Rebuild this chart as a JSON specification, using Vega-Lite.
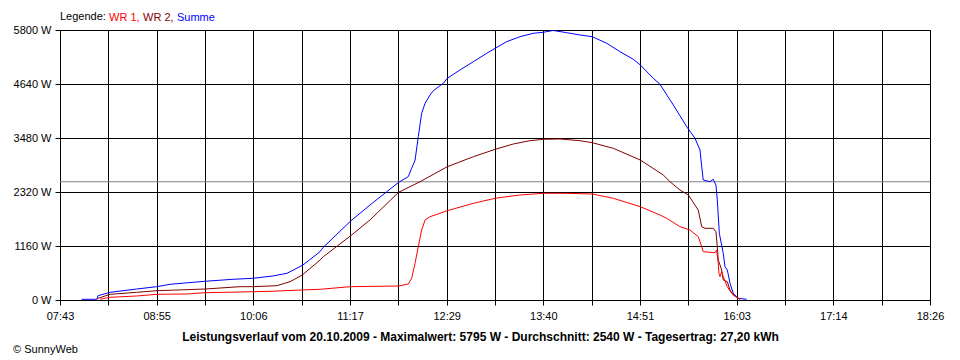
{
  "$schema": "https://vega.github.io/schema/vega-lite/v6.json",
  "width": 870,
  "height": 270,
  "autosize": {"type": "none"},
  "padding": {"left": 60, "top": 30, "right": 30, "bottom": 60},
  "background": "white",
  "config": {
    "font": "Liberation Sans",
    "view": {"stroke": "black", "strokeWidth": 1},
    "axis": {
      "labelFont": "Liberation Sans",
      "labelFontSize": 11,
      "labelColor": "black",
      "domainColor": "black",
      "tickColor": "black",
      "gridColor": "black",
      "gridOpacity": 1,
      "gridWidth": 1,
      "tickSize": 5,
      "labelOverlap": false,
      "labelFlush": false,
      "labelBound": false
    },
    "title": {"font": "Liberation Sans"}
  },
  "title": {
    "text": "© SunnyWeb",
    "orient": "bottom",
    "anchor": "start",
    "frame": "bounds",
    "fontSize": 11,
    "fontWeight": "normal",
    "color": "black",
    "offset": 2
  },
  "layer": [
    {
      "data": {"values": [{"avg": 2540}]},
      "mark": {"type": "rule", "color": "#808080", "strokeWidth": 1},
      "encoding": {"y": {"field": "avg", "type": "quantitative", "scale": {"domain": [0, 5800], "nice": false}}}
    },
    {
      "data": {"values": [
        {"t":479,"s":"Summe","p":15},{"t":490.3,"s":"Summe","p":15},{"t":491.1,"s":"Summe","p":92},{"t":500,"s":"Summe","p":165},{"t":519.7,"s":"Summe","p":236},{"t":534.5,"s":"Summe","p":286},{"t":544.3,"s":"Summe","p":337},{"t":561.3,"s":"Summe","p":380},{"t":570.2,"s":"Summe","p":402},{"t":590.9,"s":"Summe","p":445},{"t":605.6,"s":"Summe","p":466},{"t":620.4,"s":"Summe","p":516},{"t":630.8,"s":"Summe","p":574},{"t":642.6,"s":"Summe","p":752},{"t":655.2,"s":"Summe","p":1038},{"t":657.6,"s":"Summe","p":1132},{"t":677.6,"s":"Summe","p":1691},{"t":692.1,"s":"Summe","p":2041},{"t":704.5,"s":"Summe","p":2326},{"t":713.3,"s":"Summe","p":2528},{"t":720.4,"s":"Summe","p":2649},{"t":722.9,"s":"Summe","p":2829},{"t":725.4,"s":"Summe","p":3000},{"t":727.8,"s":"Summe","p":3508},{"t":730.3,"s":"Summe","p":4011},{"t":732.8,"s":"Summe","p":4225},{"t":736.5,"s":"Summe","p":4404},{"t":738.9,"s":"Summe","p":4496},{"t":746.3,"s":"Summe","p":4655},{"t":749.2,"s":"Summe","p":4762},{"t":758.6,"s":"Summe","p":4941},{"t":768.5,"s":"Summe","p":5119},{"t":778.4,"s":"Summe","p":5300},{"t":784.7,"s":"Summe","p":5407},{"t":793.1,"s":"Summe","p":5549},{"t":803,"s":"Summe","p":5656},{"t":812.8,"s":"Summe","p":5729},{"t":820.2,"s":"Summe","p":5751},{"t":827.6,"s":"Summe","p":5790},{"t":837.5,"s":"Summe","p":5742},{"t":847.3,"s":"Summe","p":5693},{"t":856.4,"s":"Summe","p":5656},{"t":867.1,"s":"Summe","p":5514},{"t":876.9,"s":"Summe","p":5334},{"t":886.7,"s":"Summe","p":5171},{"t":891.9,"s":"Summe","p":5048},{"t":901.5,"s":"Summe","p":4762},{"t":906.4,"s":"Summe","p":4634},{"t":916.3,"s":"Summe","p":4189},{"t":926.2,"s":"Summe","p":3723},{"t":932.3,"s":"Summe","p":3474},{"t":936,"s":"Summe","p":3222},{"t":937.3,"s":"Summe","p":2863},{"t":938.4,"s":"Summe","p":2578},{"t":943.4,"s":"Summe","p":2541},{"t":945.8,"s":"Summe","p":2593},{"t":947.8,"s":"Summe","p":2470},{"t":948.8,"s":"Summe","p":2148},{"t":950.3,"s":"Summe","p":1433},{"t":952,"s":"Summe","p":1181},{"t":953.2,"s":"Summe","p":1003},{"t":954.5,"s":"Summe","p":715},{"t":956.2,"s":"Summe","p":644},{"t":958.2,"s":"Summe","p":359},{"t":960.6,"s":"Summe","p":144},{"t":963.1,"s":"Summe","p":71},{"t":964.3,"s":"Summe","p":37},{"t":970.5,"s":"Summe","p":15},
        {"t":490.3,"s":"WR 2","p":21},{"t":491.3,"s":"WR 2","p":37},{"t":500,"s":"WR 2","p":122},{"t":519.7,"s":"WR 2","p":165},{"t":534.7,"s":"WR 2","p":200},{"t":570.4,"s":"WR 2","p":236},{"t":596,"s":"WR 2","p":286},{"t":606.2,"s":"WR 2","p":286},{"t":618.2,"s":"WR 2","p":301},{"t":623.2,"s":"WR 2","p":307},{"t":633,"s":"WR 2","p":393},{"t":642.1,"s":"WR 2","p":537},{"t":655.2,"s":"WR 2","p":859},{"t":657.6,"s":"WR 2","p":930},{"t":677.6,"s":"WR 2","p":1375},{"t":692.1,"s":"WR 2","p":1719},{"t":713.3,"s":"WR 2","p":2314},{"t":729.1,"s":"WR 2","p":2541},{"t":749.2,"s":"WR 2","p":2863},{"t":768.5,"s":"WR 2","p":3078},{"t":784.7,"s":"WR 2","p":3237},{"t":798,"s":"WR 2","p":3351},{"t":810.4,"s":"WR 2","p":3422},{"t":820.2,"s":"WR 2","p":3452},{"t":832.5,"s":"WR 2","p":3459},{"t":847.3,"s":"WR 2","p":3422},{"t":856.4,"s":"WR 2","p":3379},{"t":871.9,"s":"WR 2","p":3259},{"t":891.9,"s":"WR 2","p":3007},{"t":908.9,"s":"WR 2","p":2685},{"t":913.8,"s":"WR 2","p":2541},{"t":921.2,"s":"WR 2","p":2363},{"t":927.4,"s":"WR 2","p":2256},{"t":934.7,"s":"WR 2","p":1933},{"t":937.3,"s":"WR 2","p":1575},{"t":939.7,"s":"WR 2","p":1540},{"t":945.8,"s":"WR 2","p":1540},{"t":947.8,"s":"WR 2","p":1467},{"t":948.8,"s":"WR 2","p":1145},{"t":949.5,"s":"WR 2","p":859},{"t":950.8,"s":"WR 2","p":752},{"t":952,"s":"WR 2","p":644},{"t":953.2,"s":"WR 2","p":430},{"t":956.2,"s":"WR 2","p":393},{"t":958.2,"s":"WR 2","p":215},{"t":960.6,"s":"WR 2","p":107},{"t":963.1,"s":"WR 2","p":58},{"t":965.6,"s":"WR 2","p":15},
        {"t":492.6,"s":"WR 1","p":15},{"t":500,"s":"WR 1","p":58},{"t":519.7,"s":"WR 1","p":86},{"t":534.7,"s":"WR 1","p":122},{"t":556.6,"s":"WR 1","p":129},{"t":570.4,"s":"WR 1","p":157},{"t":606.2,"s":"WR 1","p":178},{"t":618.2,"s":"WR 1","p":187},{"t":642.1,"s":"WR 1","p":215},{"t":655.2,"s":"WR 1","p":230},{"t":677.6,"s":"WR 1","p":286},{"t":713.3,"s":"WR 1","p":301},{"t":720.4,"s":"WR 1","p":344},{"t":722.9,"s":"WR 1","p":466},{"t":725.4,"s":"WR 1","p":788},{"t":727.8,"s":"WR 1","p":1145},{"t":730.3,"s":"WR 1","p":1504},{"t":732.8,"s":"WR 1","p":1719},{"t":736.5,"s":"WR 1","p":1789},{"t":749.2,"s":"WR 1","p":1918},{"t":768.5,"s":"WR 1","p":2077},{"t":784.7,"s":"WR 1","p":2185},{"t":803,"s":"WR 1","p":2256},{"t":820.2,"s":"WR 1","p":2292},{"t":837.5,"s":"WR 1","p":2292},{"t":856.4,"s":"WR 1","p":2277},{"t":871.9,"s":"WR 1","p":2185},{"t":891.9,"s":"WR 1","p":2004},{"t":906.4,"s":"WR 1","p":1826},{"t":911.4,"s":"WR 1","p":1755},{"t":921.2,"s":"WR 1","p":1575},{"t":928.6,"s":"WR 1","p":1504},{"t":934.7,"s":"WR 1","p":1360},{"t":937.3,"s":"WR 1","p":1145},{"t":938.4,"s":"WR 1","p":1038},{"t":947.1,"s":"WR 1","p":1016},{"t":948.3,"s":"WR 1","p":1074},{"t":949.5,"s":"WR 1","p":788},{"t":950,"s":"WR 1","p":574},{"t":950.8,"s":"WR 1","p":501},{"t":952,"s":"WR 1","p":608},{"t":953.2,"s":"WR 1","p":501},{"t":956.2,"s":"WR 1","p":286},{"t":959.4,"s":"WR 1","p":144},{"t":963.1,"s":"WR 1","p":58},{"t":965.6,"s":"WR 1","p":15}
      ]},
      "mark": {"type": "line", "strokeWidth": 1},
      "encoding": {
        "x": {
          "field": "t", "type": "quantitative",
          "scale": {"domain": [463, 1106], "nice": false, "zero": false},
          "axis": {
            "values": [463, 498.722, 534.444, 570.167, 605.889, 641.611, 677.333, 713.056, 748.778, 784.5, 820.222, 855.944, 891.667, 927.389, 963.111, 998.833, 1034.556, 1070.278, 1106],
            "labelExpr": "['07:43','','08:55','','10:06','','11:17','','12:29','','13:40','','14:51','','16:03','','17:14','','18:26'][round((datum.value-463)/35.7222)]",
            "labelPadding": 5,
            "title": "Leistungsverlauf vom 20.10.2009 - Maximalwert: 5795 W - Durchschnitt: 2540 W - Tagesertrag: 27,20 kWh",
            "titleFont": "Liberation Sans",
            "titleFontSize": 12,
            "titleFontWeight": "bold",
            "titleColor": "black",
            "titlePadding": 10,
            "titleX": 420
          }
        },
        "y": {
          "field": "p", "type": "quantitative",
          "scale": {"domain": [0, 5800], "nice": false},
          "axis": {
            "values": [0, 1160, 2320, 3480, 4640, 5800],
            "labelExpr": "datum.value + ' W'",
            "labelPadding": 4,
            "title": null
          }
        },
        "color": {
          "field": "s", "type": "nominal",
          "scale": {"domain": ["WR 1", "WR 2", "Summe"], "range": ["#FF0000", "#800000", "#0000FF"]},
          "legend": {
            "orient": "top",
            "direction": "horizontal",
            "title": "Legende:",
            "titleOrient": "left",
            "titleFontWeight": "normal",
            "titleFontSize": 11,
            "titleColor": "black",
            "titlePadding": 3,
            "labelFontSize": 11,
            "labelExpr": "datum.label == 'Summe' ? datum.label : datum.label + ','",
            "symbolSize": 0,
            "symbolStrokeWidth": 0,
            "symbolOpacity": 0,
            "labelOffset": -11,
            "gridAlign": "none",
            "columnPadding": 3,
            "offset": 5,
            "padding": 0,
            "encode": {"labels": {"update": {"fill": {"scale": "color", "field": "value"}}}}
          }
        }
      }
    }
  ]
}
